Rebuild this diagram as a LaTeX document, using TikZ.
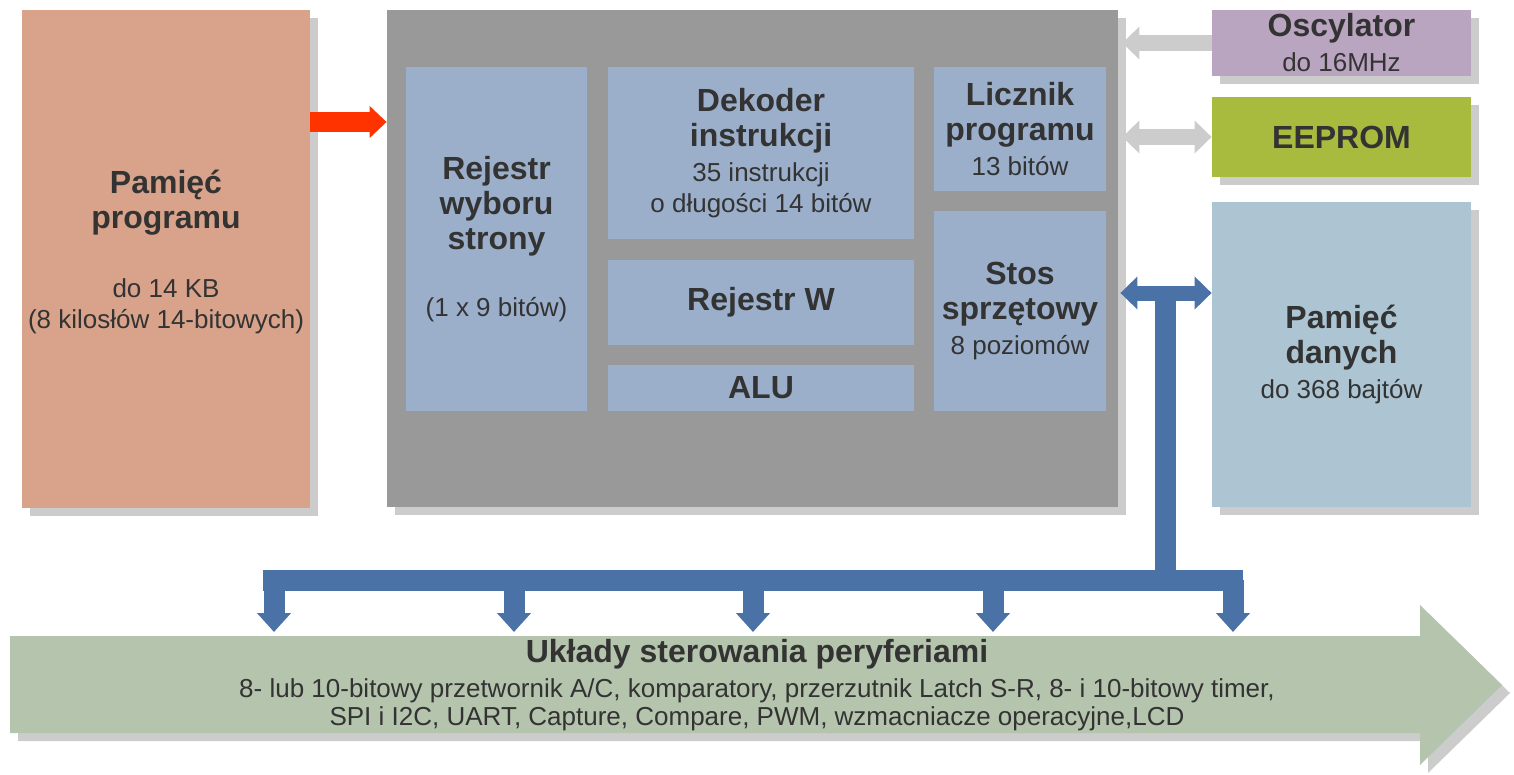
\documentclass[tikz,border=0pt]{standalone}
\usepackage{fontspec}
\setmainfont{Liberation Sans}
\usetikzlibrary{arrows.meta,shadows}
\definecolor{txtcol}{HTML}{333333}
\definecolor{progcol}{HTML}{D8A38A}
\definecolor{cpucol}{HTML}{999999}
\definecolor{regcol}{HTML}{9BAFCB}
\definecolor{osccol}{HTML}{BAA5C0}
\definecolor{eepcol}{HTML}{A8BB3E}
\definecolor{danecol}{HTML}{ADC5D3}
\definecolor{percol}{HTML}{B5C4AD}
\definecolor{buscol}{HTML}{4A72A6}
\definecolor{greycol}{HTML}{CCCCCC}
\definecolor{redcol}{HTML}{FF3300}
\newcommand{\ttl}{\fontsize{16}{17.5}\selectfont\bfseries}
\newcommand{\sub}{\fontsize{13}{15.5}\selectfont\mdseries}

\begin{document}
\begin{tikzpicture}[x=0.5pt, y=-0.5pt,
    blk/.style={rectangle, inner sep=0pt, align=center, text=txtcol, font=\ttl},
    reg/.style={blk, fill=regcol},
    shad/.style={general shadow={fill=black!20, shadow xshift=4pt, shadow yshift=-4pt}},
    greyarr/.style={draw=greycol, line width=8pt, -{Triangle[length=8.5pt,width=16pt]}},
    redarr/.style={draw=redcol, line width=10pt, -{Triangle[length=8.5pt,width=15.5pt]}},
    bus/.style={draw=buscol, line width=10.5pt, line join=miter},
    busarr/.style={bus, -{Triangle[length=9.5pt,width=16.5pt]}},
    busdbl/.style={draw=buscol, line width=7.5pt, {Triangle[length=8.5pt,width=16pt]}-{Triangle[length=8.5pt,width=16pt]}}]
    \useasboundingbox (0,0) rectangle (1514,775);
    % pamiec programu
    \node[blk, shad, fill=progcol, minimum width=144pt, minimum height=249pt] (prog) at (166,259)
        {Pamięć\\programu\\[17pt]{\sub do 14 KB}\\[-2pt]{\sub (8 kilosłów 14-bitowych)}\\[-7.5pt]\mbox{}};
    % rdzen
    \node[shad, fill=cpucol, inner sep=0pt, minimum width=365.5pt, minimum height=248.5pt] (cpu) at (752.5,258.5) {};
    \node[reg, minimum width=90.5pt, minimum height=172pt] (rws) at (496.5,239)
        {Rejestr\\wyboru\\strony\\[16pt]{\sub (1 x 9 bitów)}};
    \node[reg, minimum width=153pt, minimum height=86pt] (dek) at (761,153)
        {Dekoder\\instrukcji\\{\sub 35 instrukcji}\\[-2pt]{\sub o długości 14 bitów}};
    \node[reg, minimum width=153pt, minimum height=42.5pt] (rw) at (761,302.5) {Rejestr W};
    \node[reg, minimum width=153pt, minimum height=23pt] (alu) at (761,388) {ALU};
    \node[reg, minimum width=86pt, minimum height=62pt] (lic) at (1020,129)
        {Licznik\\programu\\{\sub 13 bitów}};
    \node[reg, minimum width=86pt, minimum height=100pt] (stos) at (1020,311)
        {Stos\\sprzętowy\\{\sub 8 poziomów}};
    % po prawej
    \node[blk, shad, fill=osccol, minimum width=129.5pt, minimum height=33pt] (osc) at (1341.5,43)
        {Oscylator\\{\sub do 16MHz}};
    \node[blk, shad, fill=eepcol, minimum width=129.5pt, minimum height=40pt] (eep) at (1341.5,137) {EEPROM};
    \node[blk, shad, fill=danecol, minimum width=129.5pt, minimum height=152.5pt] (dane) at (1341.5,354.5)
        {Pamięć\\danych\\{\sub do 368 bajtów}};
    % peryferia
    \path[fill=percol, shad] (10,636) -- (1420,636) -- (1420,605) -- (1502,685) -- (1420,765) -- (1420,733) -- (10,733) -- cycle;
    \node[blk] (perif) at (757,685)
        {Układy sterowania peryferiami\\{\sub 8- lub 10-bitowy przetwornik A/C, komparatory, przerzutnik Latch S-R, 8- i 10-bitowy timer,}\\[-3.5pt]{\sub SPI i I2C, UART, Capture, Compare, PWM, wzmacniacze operacyjne,LCD}};
    % strzalki
    \coordinate (r) at (0,122);
    \draw[redarr] (r -| prog.east) -- (r -| cpu.west);
    \draw[greyarr, shorten >=2pt] (osc.west) -- (osc.west -| cpu.east);
    \draw[greyarr, {Triangle[length=8.5pt,width=16pt]}-{Triangle[length=8.5pt,width=16pt]}, shorten <=2pt] (eep.west -| cpu.east) -- (eep.west);
    % magistrala
    \coordinate (tap) at (1165,293);
    \coordinate (hub) at (1165,580);
    \coordinate (barL) at (263,580);
    \coordinate (barR) at (1243,580);
    \coordinate (ptop) at (0,632);
    \draw[bus] (tap) -- (hub);
    \draw[bus] (barL) -- (barR);
    \foreach \x in {274,514,753,993,1233}
        \draw[busarr] (\x,580) -- (\x,632 |- ptop);
    \draw[busdbl, shorten <=1pt] (tap -| cpu.east) -- (tap -| dane.west);
\end{tikzpicture}
\end{document}
